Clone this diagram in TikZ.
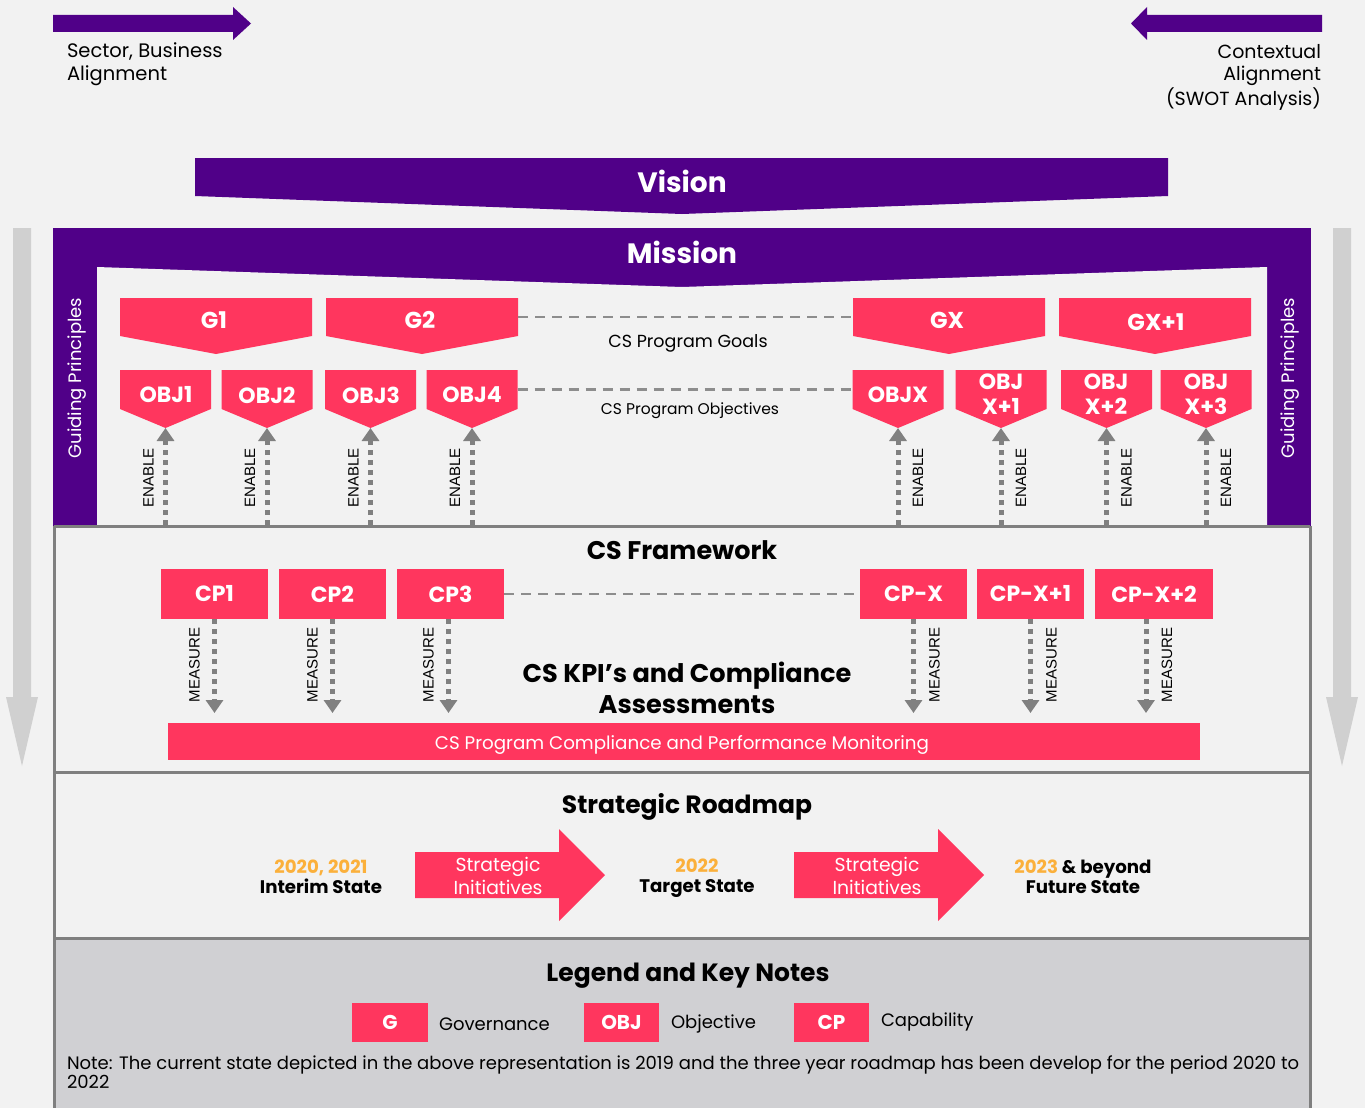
\documentclass[tikz,border=0pt]{standalone}
\usepackage{fontspec}
\setmainfont{Poppins}
\newfontfamily\capsfont{Liberation Sans}
\usetikzlibrary{arrows.meta}

\definecolor{bgc}{HTML}{F2F2F2}
\definecolor{purp}{HTML}{500088}
\definecolor{pinkc}{HTML}{FF365E}
\definecolor{arrowgray}{HTML}{808080}
\definecolor{sidegray}{HTML}{D0D0D0}
\definecolor{legendbg}{HTML}{D0D0D3}
\definecolor{framegray}{HTML}{7F7F7F}
\definecolor{gold}{HTML}{FBB03B}

% pentagon tag pointing down: name, centre x, top y, half width, shoulder y, tip y
\newcommand\tagshape[6]{%
  \fill[pinkc] ({#2-#4},#3) -- ({#2+#4},#3) -- ({#2+#4},#5) -- (#2,#6) -- ({#2-#4},#5) -- cycle;
  \coordinate (#1tip) at (#2,#6);
  \coordinate (#1L) at ({#2-#4},{(#3+#5)/2});
  \coordinate (#1R) at ({#2+#4},{(#3+#5)/2});
}

\begin{document}
\begin{tikzpicture}[x=1pt,y=-1pt,
  every node/.style={inner sep=0pt,outer sep=0pt},
  whitebold/.style={text=white,font=\bfseries\fontsize{#1}{#1}\selectfont},
  plain/.style={text=black,font=\fontsize{#1}{#1}\selectfont},
  headline/.style={text=black,font=\bfseries\fontsize{#1}{#1}\selectfont},
  capbox/.style={fill=pinkc,minimum height=50pt,text=white,font=\bfseries\fontsize{22}{22}\selectfont},
  legbox/.style={fill=pinkc,minimum width=76pt,minimum height=39pt,text=white,font=\bfseries\fontsize{20}{20}\selectfont},
  tiny/.style={text=black,font=\capsfont\fontsize{15}{15}\selectfont,rotate=90},
  enablearrow/.style={draw=arrowgray,line width=5pt,dash pattern=on 5pt off 5pt,
     -{Triangle[width=17pt,length=13pt]}},
  linkdash/.style={draw=arrowgray!90,line width=2.5pt,dash pattern=on 10pt off 7pt},
  frameline/.style={draw=framegray,line width=3pt},
]
\useasboundingbox (0,0) rectangle (1365,1108);
\fill[bgc] (0,0) rectangle (1365,1108);

% ---- alignment arrows at the top
\fill[purp] (53,15) -- (233,15) -- (233,7) -- (251,23.5) -- (233,40) -- (233,32) -- (53,32) -- cycle;
\node[plain=19.5,anchor=north west,align=left] (sector) at (67,43) {Sector, Business\\[3pt]Alignment};
\fill[purp] (1322,15) -- (1147,15) -- (1147,7) -- (1131,23.5) -- (1147,40) -- (1147,32) -- (1322,32) -- cycle;
\node[plain=19,anchor=north east,align=right] (context) at (1321,44) {Contextual\\[3pt]Alignment\\[2pt](SWOT Analysis)};

% ---- side flow arrows
\fill[sidegray] (13,228) -- (31,228) -- (31,697) -- (38,697) -- (22,766) -- (6,697) -- (13,697) -- cycle;
\fill[sidegray] (1333,228) -- (1351,228) -- (1351,697) -- (1358,697) -- (1342,766) -- (1326,697) -- (1333,697) -- cycle;

% ---- vision banner
\fill[purp] (195,158) -- (1168,158) -- (1168,196) -- (682,214) -- (195,196) -- cycle;
\node[whitebold=28] (vision) at (682,181) {Vision};

% ---- mission frame with guiding principles columns
\fill[purp] (53,228) rectangle (1311,526);
\fill[bgc] (97,267) -- (682,287) -- (1267,267) -- (1267,526) -- (97,526) -- cycle;
\node[whitebold=28] (mission) at (682,252) {Mission};
\node[text=white,font=\fontsize{18}{18}\selectfont,rotate=90] (gpl) at (77,378) {Guiding Principles};
\node[text=white,font=\fontsize{18}{18}\selectfont,rotate=90] (gpr) at (1290,378) {Guiding Principles};

% ---- framework, roadmap and legend panels
\fill[legendbg] (54,938) rectangle (1310,1115);
\draw[frameline] (54,526) -- (54,1115);
\draw[frameline] (1310,526) -- (1310,1115);
\draw[frameline] (54,526) -- (1310,526);
\draw[frameline] (54,772) -- (1310,772);
\draw[frameline] (54,938) -- (1310,938);

% ---- goals
\tagshape{g1}{216}{298}{96}{336}{354}
\tagshape{g2}{422}{298}{96}{336}{354}
\tagshape{gx}{949}{298}{96}{336}{354}
\tagshape{gy}{1155}{298}{96}{336}{354}
\node[whitebold=23] (g1) at (214,320) {G1};
\node[whitebold=23] (g2) at (420,320) {G2};
\node[whitebold=23] (gx) at (947,320) {GX};
\node[whitebold=23] (gy) at (1156,322) {GX+1};
\draw[linkdash] (g2R) -- (gxL);
\node[plain=17.5] (goals) at (688,343) {CS Program Goals};

% ---- objectives
\tagshape{o1}{165.5}{370}{45.5}{409}{428}
\tagshape{o2}{267}{370}{45.5}{409}{428}
\tagshape{o3}{370.5}{370}{45.5}{409}{428}
\tagshape{o4}{472}{370}{45.5}{409}{428}
\tagshape{ox}{898}{370}{45.5}{409}{428}
\tagshape{oy}{1001}{370}{45.5}{409}{428}
\tagshape{oz}{1106.5}{370}{45.5}{409}{428}
\tagshape{ow}{1206}{370}{45.5}{409}{428}
\node[whitebold=22] (obj1) at (166,395) {OBJ1};
\node[whitebold=22] (obj2) at (267,395) {OBJ2};
\node[whitebold=22] (obj3) at (371,395) {OBJ3};
\node[whitebold=22] (obj4) at (472,395) {OBJ4};
\node[whitebold=22] (objx) at (898,395) {OBJX};
\node[whitebold=22,align=center] (objy) at (1001,394) {OBJ\\[3pt]X+1};
\node[whitebold=22,align=center] (objz) at (1106,394) {OBJ\\[3pt]X+2};
\node[whitebold=22,align=center] (objw) at (1206,394) {OBJ\\[3pt]X+3};
\draw[linkdash] (o4R) -- (oxL);
\node[plain=15.5] (objectives) at (690,411) {CS Program Objectives};

% ---- enable arrows from the framework up to the objectives
\coordinate (ftop) at (0,525);
\foreach \t/\side in {o1/-17,o2/-17,o3/-17,o4/-17,ox/20,oy/20,oz/20,ow/20}{
  \draw[enablearrow] (\t tip |- ftop) -- (\t tip);
  \node[tiny] (\t en) at ([xshift=\side pt]\t tip |- 0,478) {ENABLE};
}

% ---- CS framework
\node[headline=25.5] (framework) at (682,550) {CS Framework};
\node[capbox,minimum width=107pt] (cp1) at (214.5,594) {CP1};
\node[capbox,minimum width=107pt] (cp2) at (332.5,594) {CP2};
\node[capbox,minimum width=107pt] (cp3) at (450.5,594) {CP3};
\node[capbox,minimum width=107pt] (cpx) at (913.5,594) {CP-X};
\node[capbox,minimum width=107pt] (cpy) at (1030.5,594) {CP-X+1};
\node[capbox,minimum width=118pt] (cpz) at (1154,594) {CP-X+2};
\draw[linkdash] (cp3.east) -- (cpx.west);

\fill[pinkc] (168,723) rectangle (1200,760);
\node[text=white,font=\fontsize{18.3}{18.3}\selectfont] (monitor) at (682,745) {CS Program Compliance and Performance Monitoring};
\node[headline=25.6,align=center] (kpi) at (687,688) {CS KPI’s and Compliance\\[5pt]Assessments};

% ---- measure arrows from capabilities down to monitoring
\coordinate (mtip) at (0,713);
\foreach \c/\dx/\side in {cp1/0/-20,cp2/0/-20,cp3/-2/-20,cpx/0/21,cpy/0/21,cpz/-8/21}{
  \draw[enablearrow] ([xshift=\dx pt]\c.south) -- ([xshift=\dx pt]\c.south |- mtip);
  \node[tiny] (\c me) at ([xshift=\side pt+\dx pt]\c.south |- 0,665) {MEASURE};
}

% ---- strategic roadmap
\node[headline=25] (roadmap) at (687,807) {Strategic Roadmap};
\fill[pinkc] (415,852) -- (559,852) -- (559,829) -- (605,875) -- (559,921) -- (559,898) -- (415,898) -- cycle;
\fill[pinkc] (794,852) -- (938,852) -- (938,829) -- (984,875) -- (938,921) -- (938,898) -- (794,898) -- cycle;
\node[text=white,font=\fontsize{18.8}{18.8}\selectfont,align=center] (si1) at (498,876) {Strategic\\[3pt]Initiatives};
\node[text=white,font=\fontsize{18.8}{18.8}\selectfont,align=center] (si2) at (877,876) {Strategic\\[3pt]Initiatives};
\node[headline=18.2,align=center] (interim) at (321,877) {\textcolor{gold}{2020, 2021}\\[2pt]Interim State};
\node[headline=18.2,align=center] (target) at (697,878) {\textcolor{gold}{2022}\\[2pt]Target State};
\node[headline=18.2,align=center] (future) at (1083,877) {\textcolor{gold}{2023} \& beyond\\[2pt]Future State};

% ---- legend and key notes
\node[headline=25] (legend) at (688,976) {Legend and Key Notes};
\node[legbox] (lg) at (390,1022) {G};
\node[plain=18,anchor=west] (lgt) at (439,1024) {Governance};
\node[legbox,minimum width=75pt] (lo) at (621.5,1022) {OBJ};
\node[plain=18,anchor=west] (lot) at (671,1024) {Objective};
\node[legbox,minimum width=75pt] (lc) at (831.5,1022) {CP};
\node[plain=18,anchor=west] (lct) at (881,1022) {Capability};
\node[plain=18,anchor=north west,align=left] (note) at (67,1056)
  {Note: The current state depicted in the above representation is 2019 and the three year roadmap has been develop for the period 2020 to\\[1pt]2022};
\end{tikzpicture}
\end{document}
